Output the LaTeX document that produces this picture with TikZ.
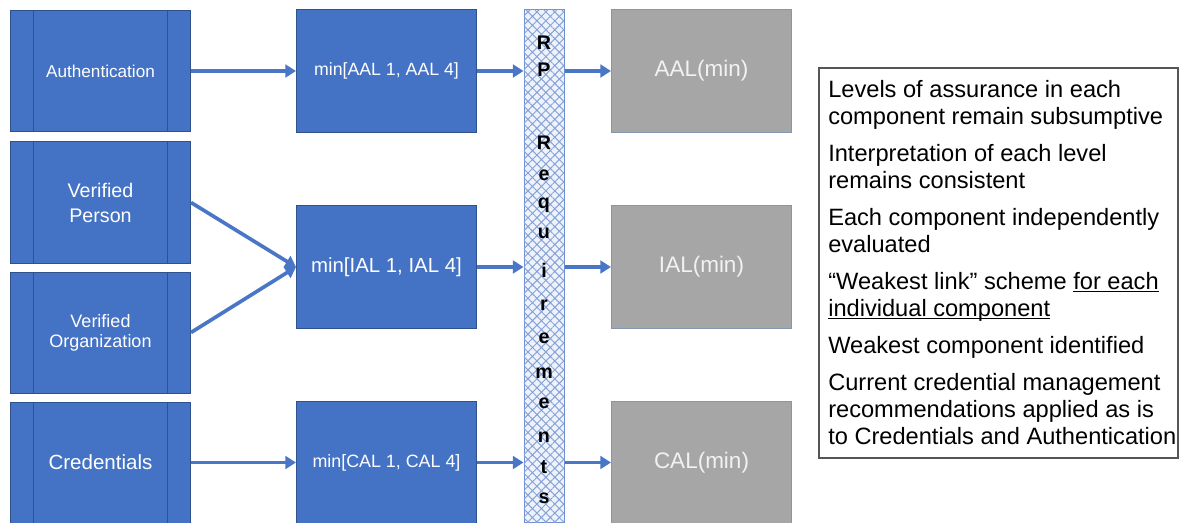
\documentclass[tikz,border=0pt]{standalone}
\usepackage{fontspec}
\setmainfont{Liberation Sans}
\usetikzlibrary{arrows.meta,patterns.meta}
\definecolor{boxblue}{HTML}{4472C4}
\definecolor{boxedge}{HTML}{2F528F}
\definecolor{arrowblue}{HTML}{4A76C7}
\definecolor{grayfill}{HTML}{A6A6A6}
\definecolor{grayedge}{HTML}{8497B0}
\definecolor{graytext}{HTML}{F2F2F2}
\definecolor{barbg}{HTML}{EEF2FA}
\definecolor{barhatch}{HTML}{86A2D8}
\definecolor{baredge}{HTML}{6F8FCF}
\definecolor{noteedge}{HTML}{555555}
\newcommand{\ulinetext}[1]{\setbox0\hbox{#1}\rlap{\rule[-2.2pt]{\wd0}{0.8pt}}\box0}
\newcommand{\fs}[1]{\fontsize{#1}{1.2\dimexpr#1pt\relax}\selectfont}
\tikzset{
	procbox/.style={rectangle, draw=boxedge, fill=boxblue, line width=0.7pt, minimum width=4.5cm, minimum height=3.025cm, text=white, align=center,
		path picture={
			\draw[boxedge, line width=0.7pt] ([xshift=0.575cm]path picture bounding box.north west) -- ([xshift=0.575cm]path picture bounding box.south west);
			\draw[boxedge, line width=0.7pt] ([xshift=-0.575cm]path picture bounding box.north east) -- ([xshift=-0.575cm]path picture bounding box.south east);
		}},
	minbox/.style={rectangle, draw=boxedge, fill=boxblue, line width=0.7pt, minimum width=4.5cm, minimum height=3.05cm, text=white, align=center},
	outbox/.style={rectangle, draw=grayedge, fill=grayfill, line width=0.7pt, minimum width=4.5cm, minimum height=3.05cm, text=graytext, font=\fs{16}},
	rpbar/.style={rectangle, draw=baredge, fill=barbg, line width=0.7pt, minimum width=1cm, minimum height=12.8cm,
		postaction={pattern={Hatch[angle=45, distance=4.5pt, line width=0.7pt]}, pattern color=barhatch}},
	rpletter/.style={inner sep=0pt, font=\bfseries\fs{14}},
	panel/.style={rectangle, draw=noteedge, line width=0.8pt, minimum width=8.975cm, minimum height=9.75cm},
	note/.style={anchor=base west, inner sep=0pt, font=\fs{16.8}},
	arr/.style={-{Triangle[length=7.5pt, width=9pt]}, line width=2.6pt, draw=arrowblue}
}
\begin{document}
\begin{tikzpicture}[x=0.025cm, y=-0.025cm]
	\useasboundingbox (0,0) rectangle (1180,522);
	% inputs
	\node[procbox, font=\fs{12.2}] (auth) at (100.5,71) {Authentication};
	\node[procbox, font=\fontsize{14}{17.8}\selectfont] (vp) at (100.5,202.5) {Verified\\Person};
	\node[procbox, font=\fontsize{12.8}{14.2}\selectfont] (vo) at (100.5,332.5) {Verified\\Organization};
	\node[procbox, font=\fs{14.6}] (cred) at (100.5,462.5) {Credentials};
	% minimum boxes
	\node[minbox, font=\fs{12.6}] (amin) at (386.5,71) {min[AAL 1, AAL 4]};
	\node[minbox, font=\fs{14.5}] (imin) at (386.5,267) {min[IAL 1, IAL 4]};
	\node[minbox, font=\fs{12.7}] (cmin) at (386.5,462.5) {min[CAL 1, CAL 4]};
	% RP requirements bar
	\node[rpbar] (bar) at (544,266) {};
	\foreach \ch/\yy [count=\n] in {R/43, P/70, R/143, e/175, q/205, u/233, i/270, r/305, e/338, m/373, e/403, n/437, t/467, s/498}
		\node[rpletter] (rp\n) at (544,\yy) {\ch};
	% results
	\node[outbox] (aal) at (701.5,71) {AAL(min)};
	\node[outbox] (ial) at (701.5,267) {IAL(min)};
	\node[outbox] (cal) at (701.5,462.5) {CAL(min)};
	% connectors
	\draw[arr] (auth) -- (amin);
	\draw[arr] (vp.east) -- (imin.west);
	\draw[arr] (vo.east) -- (imin.west);
	\draw[arr] (cred) -- (cmin);
	\draw[arr] (amin.east) -- (amin.east -| bar.west);
	\draw[arr] (imin.east) -- (imin.east -| bar.west);
	\draw[arr] (cmin.east) -- (cmin.east -| bar.west);
	\draw[arr] (bar.east |- aal.west) -- (aal.west);
	\draw[arr] (bar.east |- ial.west) -- (ial.west);
	\draw[arr] (bar.east |- cal.west) -- (cal.west);
	% notes
	\node[panel] (notes) at (998.5,263) {};
	\node[note] (n1) at (828,97) {Levels of assurance in each};
	\node[note] (n2) at (828,124) {component remain subsumptive};
	\node[note] (n3) at (828,161) {Interpretation of each level};
	\node[note] (n4) at (828,188) {remains consistent};
	\node[note] (n5) at (828,225) {Each component independently};
	\node[note] (n6) at (828,252) {evaluated};
	\node[note] (n7) at (828,289) {“Weakest link” scheme \ulinetext{for each}};
	\node[note] (n8) at (828,316) {\ulinetext{individual component}};
	\node[note] (n9) at (828,353) {Weakest component identified};
	\node[note] (n10) at (828,390) {Current credential management};
	\node[note] (n11) at (828,417) {recommendations applied as is};
	\node[note] (n12) at (828,444) {to Credentials and Authentication};
\end{tikzpicture}
\end{document}
